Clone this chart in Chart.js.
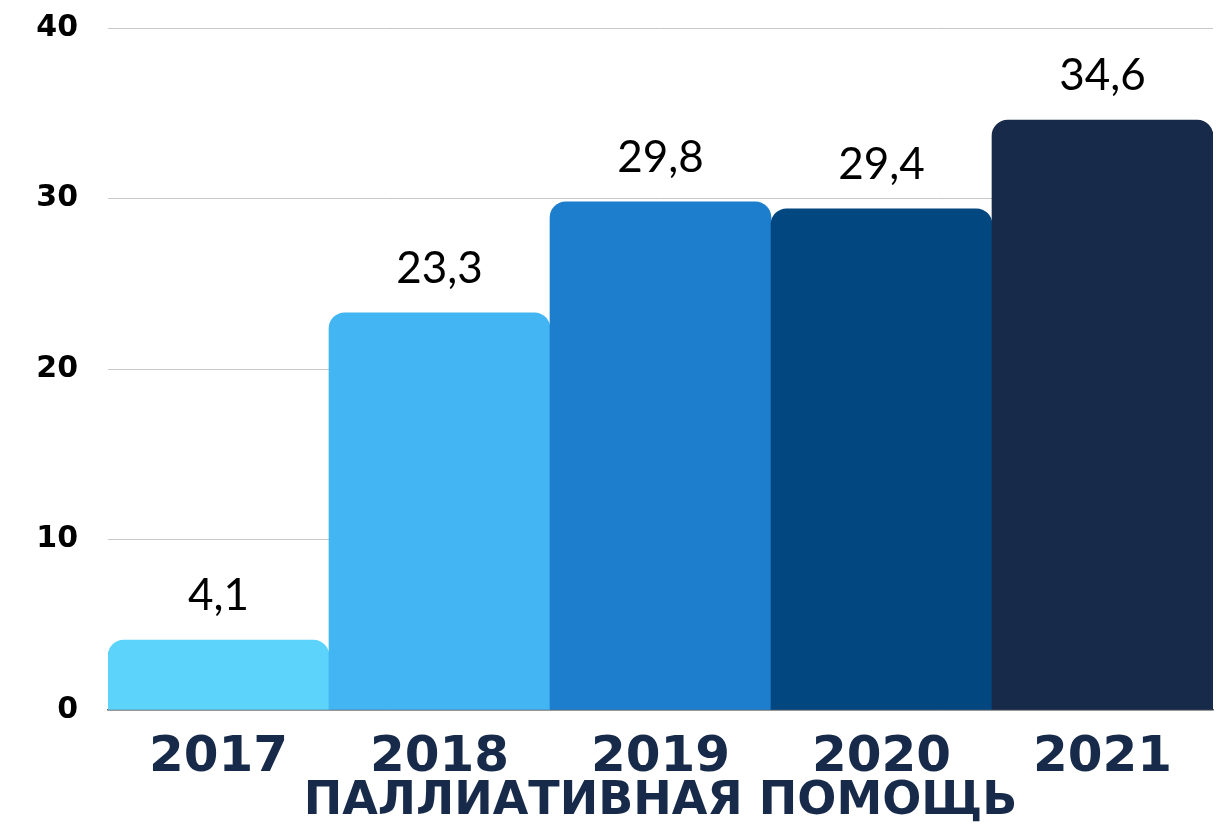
<!DOCTYPE html>
<html>
<head>
<meta charset="utf-8">
<script src="https://cdn.jsdelivr.net/npm/chart.js@4"></script>
<style>
  html, body { margin: 0; padding: 0; background: #fff; }
  #wrap { width: 1218px; height: 830px; }
</style>
</head>
<body>
<div id="wrap"><canvas id="chart"></canvas></div>
<script>
const years = ["2017", "2018", "2019", "2020", "2021"];
const values = [4.1, 23.3, 29.8, 29.4, 34.6];
const barColors = ["#5bd3fa", "#44b5f3", "#1d7ecd", "#034780", "#172a4a"];
const yTicks = [0, 10, 20, 30, 40];
const axisTitle = "ПАЛЛИАТИВНАЯ ПОМОЩЬ";

// подписи значений над столбцами
const valueLabels = {
    id: "valueLabels",
    afterDatasetsDraw(chart) {
        const ctx = chart.ctx;
        const meta = chart.getDatasetMeta(0);
        ctx.save();
        ctx.font = "44px Lato";
        ctx.fillStyle = "#000";
        ctx.textAlign = "center";
        ctx.textBaseline = "alphabetic";
        meta.data.forEach((bar, i) => {
            const txt = String(values[i]).replace(".", ",");
            ctx.fillText(txt, bar.x, bar.y - 30);
        });
        ctx.restore();
    }
};

new Chart(document.getElementById("chart"), {
    type: "bar",
    data: {
        labels: years,
        datasets: [{
            data: values,
            backgroundColor: barColors,
            borderRadius: { topLeft: 16, topRight: 16, bottomLeft: 0, bottomRight: 0 },
            borderSkipped: false,
            categoryPercentage: 1,
            barPercentage: 1
        }]
    },
    options: {
        responsive: true,
        maintainAspectRatio: false,
        animation: false,
        layout: { padding: { top: 28, right: 5, bottom: 0, left: 0 } },
        plugins: {
            legend: { display: false },
            tooltip: { enabled: false }
        },
        scales: {
            x: {
                grid: { display: false, drawTicks: false },
                border: { display: true, color: "#666", width: 1.5 },
                ticks: {
                    color: "#172a4a",
                    font: { family: "DejaVu Sans", size: 50, weight: "bold" },
                    padding: 18
                },
                title: {
                    display: true,
                    text: axisTitle,
                    color: "#172a4a",
                    font: { family: "DejaVu Sans", size: 46, weight: "bold" },
                    padding: { top: -6, bottom: 0 }
                },
                afterFit(scale) { scale.height = 120; }
            },
            y: {
                min: 0,
                max: 40,
                afterBuildTicks(scale) { scale.ticks = yTicks.map(v => ({ value: v })); },
                grid: { color: "#c8c8c8", drawTicks: false },
                border: { display: false },
                ticks: {
                    color: "#000",
                    font: { family: "DejaVu Sans", size: 30, weight: "bold" },
                    padding: 30
                },
                // фиксируем ширину оси и убираем авто-отступ сверху
                afterFit(scale) { scale.width = 108; scale.paddingTop = 0; scale.paddingBottom = 0; }
            }
        }
    },
    plugins: [valueLabels]
});
</script>
</body>
</html>
